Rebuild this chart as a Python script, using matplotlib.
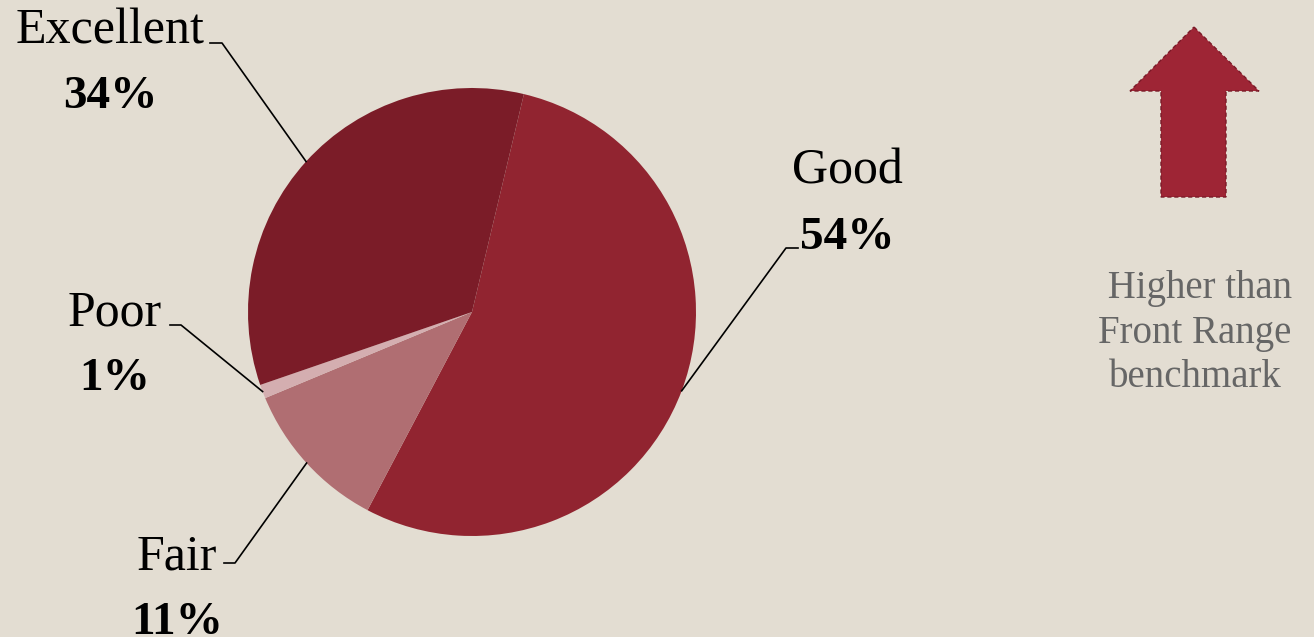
import numpy as np
import matplotlib
matplotlib.use("Agg")
from matplotlib import pyplot as plt
from matplotlib.patches import Polygon
from matplotlib.lines import Line2D

# data
labels = ["Good", "Fair", "Poor", "Excellent"]
shares = [54, 11, 1, 34]
colors = ["#912430", "#B06E72", "#D4AEB0", "#7B1C28"]
note_lines = [" Higher than", "Front Range", "benchmark"]

BG = "#E3DDD2"
W, H = 1314, 637

plt.rcParams["font.family"] = ["Liberation Serif", "DejaVu Serif"]

fig = plt.figure(figsize=(W / 100, H / 100), dpi=100, facecolor=BG)

def fx(x):
    return x / W

def fy(y):
    return 1 - y / H

# pie axes: centre (472, 312), radius 224 px
cx, cy, r = 472, 312, 224
ax = fig.add_axes([fx(cx - r), fy(cy + r), 2 * r / W, 2 * r / H])
wedges, _ = ax.pie(shares, colors=colors, startangle=76.6, counterclock=False,
                   wedgeprops=dict(linewidth=0))
ax.set_xlim(-1, 1)
ax.set_ylim(-1, 1)
ax.set_aspect("equal")
ax.axis("off")

# label layout (pixels, top origin): name centre, name baseline, pct baseline, stub start, stub end
layout = {
    "Excellent": (110, 43, 108, (210, 43), (222, 43)),
    "Good": (847, 184, 249, (798, 248), (786, 248)),
    "Fair": (177, 569, 634, (224, 563), (235, 563)),
    "Poor": (115, 326, 390, (170, 325), (181, 325)),
}

to_fig = ax.transData + fig.transFigure.inverted()
for w, lab, val in zip(wedges, labels, shares):
    xc, yname, ypct, s0, s1 = layout[lab]
    fig.text(fx(xc), fy(yname), lab, ha="center", va="baseline",
             fontsize=36, color="black")
    fig.text(fx(xc), fy(ypct), f"{val}%", ha="center", va="baseline",
             fontsize=34, fontweight="bold", color="black")
    mid = np.deg2rad((w.theta1 + w.theta2) / 2)
    ex, ey = to_fig.transform((np.cos(mid), np.sin(mid)))
    fig.add_artist(Line2D([fx(s0[0]), fx(s1[0]), ex], [fy(s0[1]), fy(s1[1]), ey],
                          color="black", lw=1.2))

# up arrow
arrow = [(1194, 27), (1259, 91), (1226, 91), (1226, 197), (1161, 197),
         (1161, 91), (1130, 91)]
fig.add_artist(Polygon([(fx(x), fy(y)) for x, y in arrow], closed=True,
                       transform=fig.transFigure, facecolor="#9E2535",
                       edgecolor="#7A1A28", linestyle=(0, (3, 2)), lw=1.0))

for line, yb in zip(note_lines, [298, 343, 387]):
    fig.text(fx(1195), fy(yb), line, ha="center", va="baseline", fontsize=28,
             color="#666666")

fig.savefig("out.png", dpi=100, facecolor=BG)
